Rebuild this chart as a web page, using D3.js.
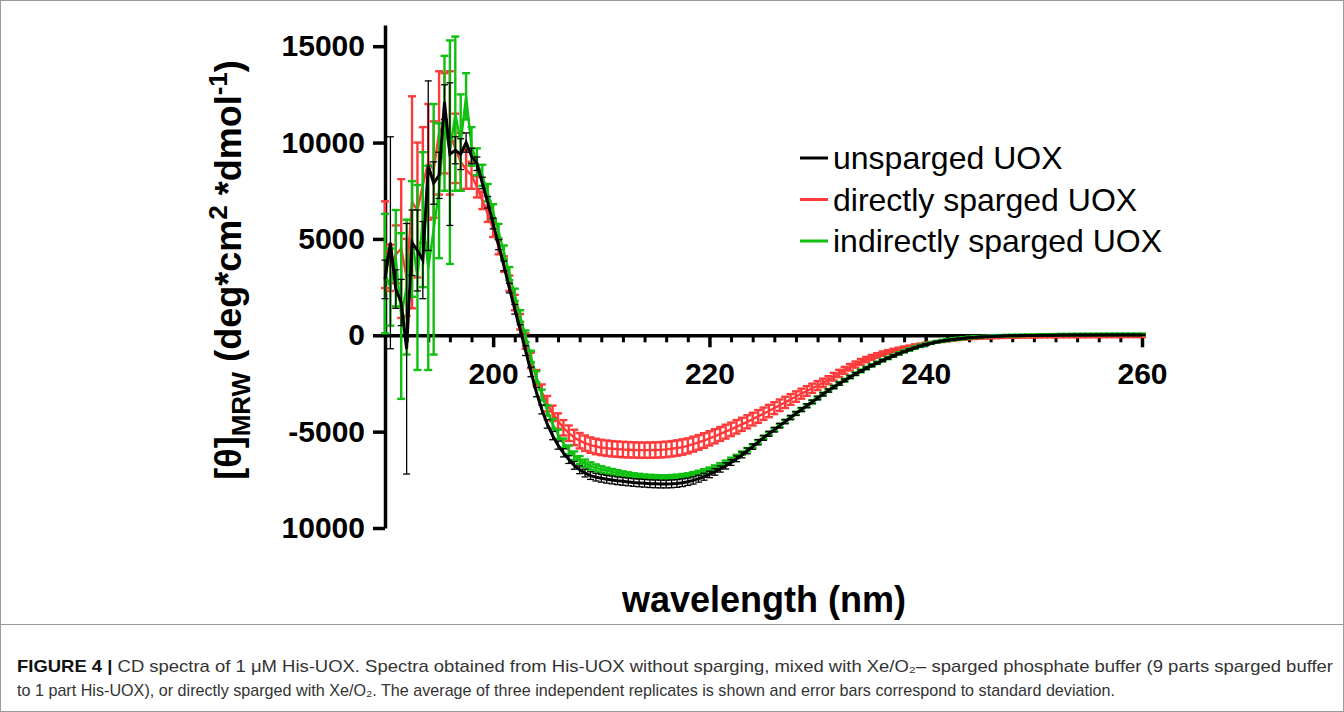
<!DOCTYPE html>
<html><head><meta charset="utf-8">
<script src="https://cdn.jsdelivr.net/npm/d3@7"></script>
<style>body{margin:0;background:#fff} svg{display:block}</style>
</head><body>
<svg id="chart" width="1344" height="712"></svg>
<script>
// ---------- data (wavelength in nm, mean residue ellipticity) ----------
const wavelength = [
190,190.5,191,191.5,192,192.5,193,193.5,194,194.5,
195,195.5,196,196.5,197,197.5,198,198.5,199,199.5,
200,200.5,201,201.5,202,202.5,203,203.5,204,204.5,
205,205.5,206,206.5,207,207.5,208,208.5,209,209.5,
210,210.5,211,211.5,212,212.5,213,213.5,214,214.5,
215,215.5,216,216.5,217,217.5,218,218.5,219,219.5,
220,220.5,221,221.5,222,222.5,223,223.5,224,224.5,
225,225.5,226,226.5,227,227.5,228,228.5,229,229.5,
230,230.5,231,231.5,232,232.5,233,233.5,234,234.5,
235,235.5,236,236.5,237,237.5,238,238.5,239,239.5,
240,240.5,241,241.5,242,242.5,243,243.5,244,244.5,
245,245.5,246,246.5,247,247.5,248,248.5,249,249.5,
250,250.5,251,251.5,252,252.5,253,253.5,254,254.5,
255,255.5,256,256.5,257,257.5,258,258.5,259,259.5,
260];

const unspargedMean = [
2900,4800,2400,1700,-700,4800,4400,3900,8800,7900,
8300,12100,9400,9600,9400,10000,9300,8900,7900,6900,
5800,4700,3600,2450,1350,300,-800,-1900,-2950,-3850,
-4600,-5200,-5700,-6100,-6450,-6750,-6980,-7150,-7280,-7360,
-7420,-7470,-7510,-7550,-7580,-7610,-7640,-7660,-7680,-7700,
-7710,-7720,-7720,-7710,-7690,-7650,-7600,-7530,-7440,-7340,
-7220,-7090,-6940,-6780,-6600,-6410,-6210,-6000,-5780,-5550,
-5320,-5110,-4900,-4690,-4480,-4270,-4060,-3860,-3660,-3460,
-3260,-3060,-2870,-2690,-2510,-2340,-2170,-2010,-1860,-1710,
-1570,-1440,-1310,-1190,-1070,-960,-850,-750,-650,-560,
-480,-410,-350,-300,-260,-220,-190,-160,-130,-110,
-90,-75,-60,-50,-40,-30,-25,-20,-15,-10,
-5,0,0,5,5,10,10,10,15,15,
15,15,20,20,20,20,20,20,20,20,
20];
const unspargedSD = [
1000,5500,1000,1200,6500,1700,2100,2000,4400,1100,
1200,900,3700,700,800,500,400,350,300,300,
280,260,250,250,250,250,250,250,240,230,
220,220,210,210,200,200,200,200,200,200,
200,200,200,200,200,200,200,200,200,200,
200,200,200,200,200,200,190,190,180,180,
170,170,160,160,150,150,150,150,140,140,
130,130,120,120,110,110,100,100,100,90,
90,90,80,80,80,70,70,70,60,60,
60,50,50,50,50,40,40,40,40,40,
40,30,30,30,30,30,30,30,30,30,
30,30,30,30,30,30,30,30,30,30,
30,30,30,30,30,30,30,30,30,30,
30,30,30,30,30,30,30,30,30,30,
30];

const directMean = [
4700,3500,4200,4500,3000,6900,6500,7800,9000,8600,
10500,11000,10500,9700,9000,8600,8300,7700,7000,6300,
5500,4600,3700,2700,1700,700,-300,-1300,-2200,-2950,
-3550,-4050,-4450,-4800,-5080,-5300,-5470,-5600,-5700,-5770,
-5820,-5860,-5890,-5910,-5930,-5940,-5950,-5960,-5960,-5960,
-5950,-5940,-5920,-5890,-5850,-5800,-5740,-5650,-5560,-5460,
-5350,-5240,-5120,-5000,-4880,-4750,-4620,-4490,-4350,-4210,
-4070,-3930,-3780,-3630,-3480,-3330,-3180,-3030,-2890,-2750,
-2610,-2470,-2330,-2150,-1980,-1820,-1660,-1520,-1380,-1260,
-1150,-1050,-950,-870,-790,-720,-650,-590,-530,-480,
-430,-390,-350,-310,-280,-250,-220,-200,-180,-165,
-150,-140,-130,-120,-110,-105,-100,-95,-90,-85,
-80,-80,-78,-76,-75,-74,-73,-72,-71,-70,
-70,-69,-68,-67,-66,-65,-65,-64,-63,-62,
-62];
const directSD = [
2250,1200,1500,3600,2000,5500,3500,3000,3000,2500,
3200,2600,3200,1800,1500,1000,700,550,450,420,
400,400,400,400,400,400,400,400,400,400,
400,400,400,400,400,400,400,400,400,400,
400,400,400,400,400,400,400,400,400,400,
400,400,400,400,400,400,390,390,380,380,
370,370,360,360,350,350,340,340,330,330,
320,320,310,300,290,280,270,260,250,240,
230,220,210,200,190,180,170,160,150,140,
130,120,110,100,90,80,70,60,60,50,
50,40,40,40,30,30,30,30,30,30,
30,30,30,30,30,30,30,30,30,30,
30,30,30,30,30,30,30,30,30,30,
30,30,30,30,30,30,30,30,30,30,
30];

const indirectMean = [
3200,2500,4000,1000,2500,5000,3000,6000,3500,5500,
7500,11000,9500,11500,10000,12400,9800,9000,8300,7400,
6400,5400,4300,3200,2100,1000,-50,-1100,-2150,-3100,
-3900,-4600,-5150,-5600,-5950,-6250,-6480,-6650,-6780,-6880,
-6960,-7030,-7090,-7140,-7190,-7230,-7270,-7300,-7320,-7340,
-7350,-7360,-7360,-7350,-7330,-7300,-7260,-7200,-7130,-7050,
-6960,-6850,-6730,-6600,-6450,-6290,-6120,-5940,-5750,-5530,
-5310,-5100,-4890,-4680,-4470,-4260,-4050,-3850,-3650,-3450,
-3250,-3050,-2860,-2680,-2500,-2330,-2160,-2000,-1850,-1700,
-1560,-1430,-1300,-1180,-1060,-950,-840,-740,-640,-550,
-470,-400,-340,-290,-250,-210,-180,-150,-120,-100,
-80,-65,-50,-40,-30,-20,-15,-10,-5,0,
5,10,15,20,25,30,30,35,35,40,
40,40,45,45,45,50,50,50,50,50,
50];
const indirectSD = [
3100,2000,2500,4300,3500,3000,4800,3500,5300,6500,
3500,3500,5800,4000,2500,1200,1000,700,550,450,
400,380,360,340,320,300,300,300,290,280,
270,260,250,240,230,220,210,200,190,180,
170,160,150,140,130,120,110,110,100,100,
100,100,100,100,100,100,100,100,100,100,
100,100,100,100,100,90,90,90,90,90,
80,80,80,80,80,80,80,80,80,80,
70,70,70,70,70,70,70,70,70,70,
60,60,60,60,60,60,60,60,60,60,
50,50,50,50,50,50,50,50,50,50,
40,40,40,40,40,40,40,40,40,40,
40,40,40,40,40,40,40,40,40,40,
40,40,40,40,40,40,40,40,40,40,
40];

const seriesNames = ["unsparged UOX", "directly sparged UOX", "indirectly sparged UOX"];
const seriesColors = ["#000000", "#ff3a3a", "#10c010"];
const yTickValues = [-10000, -5000, 0, 5000, 10000, 15000];
const yTickLabels = ["10000", "-5000", "0", "5000", "10000", "15000"];
const xMajorTicks = [200, 220, 240, 260];
const xMinorTicks = [192,194,196,198,202,204,206,208,210,212,214,216,218,222,224,226,228,230,232,234,236,238,242,244,246,248,250,252,254,256,258];
const captionLine1Bold = "FIGURE 4 | ";
const captionLine1 = "CD spectra of 1 μM His-UOX. Spectra obtained from His-UOX without sparging, mixed with Xe/O₂– sparged phosphate buffer (9 parts sparged buffer";
const captionLine2 = "to 1 part His-UOX), or directly sparged with Xe/O₂. The average of three independent replicates is shown and error bars correspond to standard deviation.";

// ---------- drawing ----------
const svg = d3.select("#chart");
const FONT = "'Liberation Sans', Arial, Helvetica, sans-serif";

const x = d3.scaleLinear().domain([190, 260]).range([385, 1142]);
const y = d3.scaleLinear().domain([-10000, 16100]).range([528, 25]);

// frame
svg.append("rect").attr("x", 0.5).attr("y", 0.5).attr("width", 1343).attr("height", 711)
  .attr("fill", "none").attr("stroke", "#9a9a9a").attr("stroke-width", 1);
svg.append("line").attr("x1", 0).attr("x2", 1344).attr("y1", 624.5).attr("y2", 624.5)
  .attr("stroke", "#9a9a9a").attr("stroke-width", 1);

// y axis
const yAxis = svg.append("g").attr("transform", `translate(${x(190)},0)`)
  .call(d3.axisLeft(y).tickValues(yTickValues).tickFormat((d, i) => yTickLabels[i])
    .tickSize(12).tickSizeOuter(0).tickPadding(8));
yAxis.select(".domain").attr("stroke-width", 3.5).attr("stroke", "#000");
yAxis.selectAll(".tick line").attr("stroke-width", 3.5).attr("stroke", "#000");
yAxis.selectAll(".tick text").attr("font-family", FONT).attr("font-size", 30)
  .attr("font-weight", "bold").attr("fill", "#000");

// x axis at y = 0
const y0 = y(0);
const xMinor = svg.append("g").attr("transform", `translate(0,${y0})`)
  .call(d3.axisBottom(x).tickValues(xMinorTicks).tickSize(7).tickSizeOuter(0).tickFormat(""));
xMinor.select(".domain").remove();
xMinor.selectAll(".tick line").attr("stroke-width", 3).attr("stroke", "#000");
const xAxis = svg.append("g").attr("transform", `translate(0,${y0})`)
  .call(d3.axisBottom(x).tickValues(xMajorTicks).tickSize(12).tickSizeOuter(0).tickPadding(15));
xAxis.select(".domain").attr("stroke-width", 3.5).attr("stroke", "#000");
xAxis.selectAll(".tick line").attr("stroke-width", 3.5).attr("stroke", "#000");
xAxis.selectAll(".tick text").attr("font-family", FONT).attr("font-size", 30)
  .attr("font-weight", "bold").attr("fill", "#000");

// series
const series = [
  {name: seriesNames[1], color: seriesColors[1], mean: directMean, sd: directSD, lw: 2.4, ew: 2.4, cap: 8},
  {name: seriesNames[2], color: seriesColors[2], mean: indirectMean, sd: indirectSD, lw: 2.4, ew: 2.4, cap: 8},
  {name: seriesNames[0], color: seriesColors[0], mean: unspargedMean, sd: unspargedSD, lw: 3, ew: 1.3, cap: 7}
];
const line = d3.line().x(d => x(d.w)).y(d => y(d.m));
series.forEach(s => {
  const pts = wavelength.map((w, i) => ({w, m: s.mean[i], sd: s.sd[i]}));
  const g = svg.append("g");
  const eb = g.append("g").attr("stroke", s.color).attr("stroke-width", s.ew).attr("fill", "none");
  eb.selectAll("line.v").data(pts).join("line").attr("class", "v")
    .attr("x1", d => x(d.w)).attr("x2", d => x(d.w))
    .attr("y1", d => y(d.m - d.sd)).attr("y2", d => y(d.m + d.sd));
  eb.selectAll("line.t").data(pts).join("line").attr("class", "t")
    .attr("x1", d => x(d.w) - s.cap / 2).attr("x2", d => x(d.w) + s.cap / 2)
    .attr("y1", d => y(d.m + d.sd)).attr("y2", d => y(d.m + d.sd));
  eb.selectAll("line.b").data(pts).join("line").attr("class", "b")
    .attr("x1", d => x(d.w) - s.cap / 2).attr("x2", d => x(d.w) + s.cap / 2)
    .attr("y1", d => y(d.m - d.sd)).attr("y2", d => y(d.m - d.sd));
  g.append("path").datum(pts).attr("d", line).attr("fill", "none")
    .attr("stroke", s.color).attr("stroke-width", s.lw).attr("stroke-linejoin", "miter");
});

// legend
const legendOrder = [0, 1, 2];
const legend = svg.append("g");
legendOrder.forEach((k, i) => {
  const ly = 158 + i * 41.5;
  legend.append("line").attr("x1", 800).attr("x2", 828).attr("y1", ly).attr("y2", ly)
    .attr("stroke", seriesColors[k]).attr("stroke-width", 3);
  legend.append("text").attr("x", 833).attr("y", ly + 11).text(seriesNames[k])
    .attr("font-family", FONT).attr("font-size", 32).attr("fill", "#000");
});

// axis titles
svg.append("text").attr("x", 764).attr("y", 612).attr("text-anchor", "middle")
  .attr("font-family", FONT).attr("font-size", 36).attr("font-weight", "bold")
  .text("wavelength (nm)");

const yt = svg.append("text").attr("transform", "translate(241,270) rotate(-90)")
  .attr("text-anchor", "middle").attr("font-family", FONT).attr("font-size", 36)
  .attr("font-weight", "bold");
yt.append("tspan").text("[θ]");
yt.append("tspan").attr("font-size", 26).attr("dy", 9).text("MRW");
yt.append("tspan").attr("dy", -9).text(" (deg*cm");
yt.append("tspan").attr("font-size", 26).attr("dy", -14).text("2");
yt.append("tspan").attr("dy", 14).text(" *dmol");
yt.append("tspan").attr("font-size", 26).attr("dy", -14).text("-1");
yt.append("tspan").attr("dy", 14).text(")");

// caption
const CAP = "'Liberation Sans Narrow', 'Arial Narrow', 'Liberation Sans', Arial, sans-serif";
const c1 = svg.append("text").attr("x", 17).attr("y", 672).attr("font-family", CAP)
  .attr("font-size", 17).attr("fill", "#333").attr("textLength", 1316).attr("lengthAdjust", "spacingAndGlyphs");
c1.append("tspan").attr("font-weight", "bold").attr("fill", "#111").text(captionLine1Bold);
c1.append("tspan").text(captionLine1);
svg.append("text").attr("x", 17).attr("y", 696).attr("font-family", CAP)
  .attr("font-size", 17).attr("fill", "#333").attr("textLength", 1098).attr("lengthAdjust", "spacingAndGlyphs")
  .text(captionLine2);
</script>
</body></html>
